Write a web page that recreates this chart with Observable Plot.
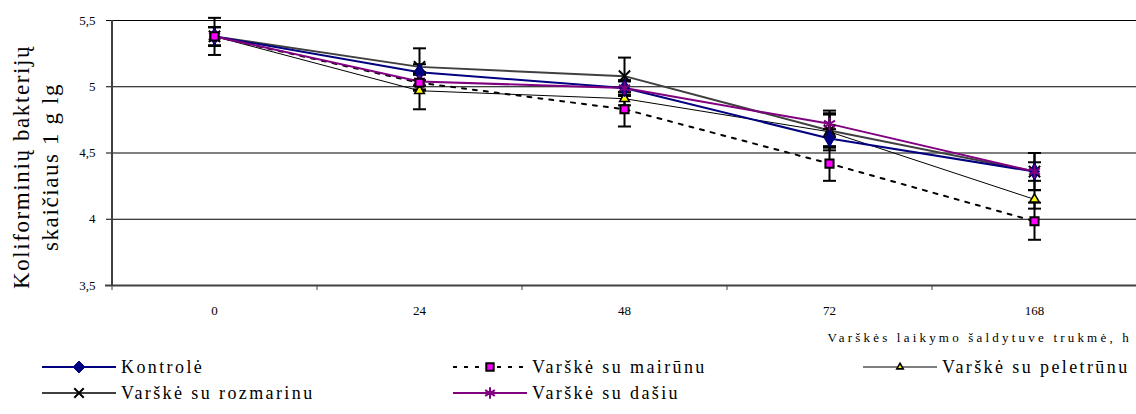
<!DOCTYPE html>
<html>
<head>
<meta charset="utf-8">
<script src="https://cdn.jsdelivr.net/npm/d3@7"></script>
<script src="https://cdn.jsdelivr.net/npm/@observablehq/plot@0.6"></script>
<style>
  html, body { margin: 0; padding: 0; background: #fff; }
  #wrap { position: relative; width: 1136px; height: 414px; font-family: 'Liberation Serif', 'DejaVu Serif', serif; color: #000; }
  #ytitle { position: absolute; left: 36px; top: 167px; transform: translate(-50%, -50%) rotate(-90deg); white-space: nowrap; text-align: center; font-size: 23px; line-height: 29px; letter-spacing: 1.6px; }
  #xtitle { position: absolute; right: 4px; top: 330px; font-size: 13px; letter-spacing: 3.2px; white-space: nowrap; font-family: 'Liberation Serif', serif; }
  .lg { position: absolute; display: flex; align-items: center; height: 22px; font-size: 18px; letter-spacing: 2.4px; white-space: nowrap; font-family: 'Liberation Serif', serif; }
  .lg svg { margin-right: 5px; }
  #chart svg text { font-family: 'Liberation Serif', serif; }
</style>
</head>
<body>
<div id="wrap">
  <div id="chart"></div>
  <div id="ytitle">Koliforminių bakterijų<br>skaičiaus 1 g lg</div>
  <div id="xtitle">Varškės laikymo šaldytuve trukmė, h</div>
  <div id="legend"></div>
</div>
<script>
// ---- data ----
const hours = ["0", "24", "48", "72", "168"];
const seriesNames = ["Kontrolė", "Varškė su mairūnu", "Varškė su peletrūnu", "Varškė su rozmarinu", "Varškė su dašiu"];
const kontrole  = [5.38, 5.11, 4.99, 4.61, 4.36];
const mairunu   = [5.38, 5.03, 4.83, 4.42, 3.985];
const peletrunu = [5.38, 4.97, 4.91, 4.66, 4.15];
const rozmarinu = [5.38, 5.15, 5.08, 4.67, 4.36];
const dasiu     = [5.38, 5.04, 4.99, 4.72, 4.36];
const errKontrole  = [0.07, 0.06, 0.05, 0.07, 0.07];
const errMairunu   = [0.07, 0.06, 0.13, 0.13, 0.14];
const errPeletrunu = [0.07, 0.14, 0.05, 0.14, 0.07];
const errRozmarinu = [0.14, 0.14, 0.14, 0.12, 0.14];
const errDasiu     = [0.07, 0.06, 0.06, 0.10, 0.14];
const yTicks = [3.5, 4, 4.5, 5, 5.5];

// ---- styles per series ----
const styles = {
  "Kontrolė":            {stroke: "#000080", width: 2, dash: null, symbol: "diamond", fill: "#000080", mstroke: "#000080", r: 5.2, sw: 1},
  "Varškė su mairūnu":   {stroke: "#000000", width: 2, dash: "4,7", symbol: "square", fill: "#ff00ff", mstroke: "#000000", r: 4.6, sw: 2},
  "Varškė su peletrūnu": {stroke: "#000000", width: 1, dash: null, symbol: "triangle", fill: "#ffff00", mstroke: "#000000", r: 3.6, sw: 1.6},
  "Varškė su rozmarinu": {stroke: "#404040", width: 2, dash: null, symbol: "times", fill: "none", mstroke: "#000000", r: 5.2, sw: 2},
  "Varškė su dašiu":     {stroke: "#800080", width: 2, dash: null, symbol: "asterisk", fill: "none", mstroke: "#800080", r: 6, sw: 2}
};

const valuesList = [kontrole, mairunu, peletrunu, rozmarinu, dasiu];
const errList = [errKontrole, errMairunu, errPeletrunu, errRozmarinu, errDasiu];
const rows = [];
seriesNames.forEach((s, i) => hours.forEach((h, j) => rows.push({series: s, hour: h, value: valuesList[i][j], err: errList[i][j]})));

const capSymbol = {draw(ctx, size) { const r = 6.5; ctx.moveTo(-r, 0); ctx.lineTo(r, 0); }};

const lineOrder = ["Varškė su peletrūnu", "Varškė su mairūnu", "Varškė su rozmarinu", "Kontrolė", "Varškė su dašiu"];
const markOrder = ["Varškė su peletrūnu", "Varškė su rozmarinu", "Kontrolė", "Varškė su dašiu", "Varškė su mairūnu"];

const marks = [
  Plot.ruleY(yTicks.slice(1), {stroke: "#000", strokeWidth: 1}),
  Plot.ruleY([3.5], {stroke: "#404040", strokeWidth: 2, insetLeft: -6}),
  Plot.ruleX(hours, {x: d => d, y1: 3.5, y2: 3.5, dx: -102.5, insetBottom: -5, stroke: "#404040", strokeWidth: 1}),
  Plot.ruleX([hours[0]], {x: d => d, y1: 3.5, y2: 5.5, dx: -102.5, stroke: "#404040", strokeWidth: 2}),
];
for (const s of lineOrder) {
  const st = styles[s];
  marks.push(Plot.line(rows.filter(d => d.series === s), {x: "hour", y: "value", stroke: st.stroke, strokeWidth: st.width, strokeDasharray: st.dash}));
}
marks.push(Plot.ruleX(rows, {x: "hour", y1: d => d.value - d.err, y2: d => d.value + d.err, stroke: "#000", strokeWidth: 2}));
marks.push(Plot.dot(rows, {x: "hour", y: d => d.value + d.err, symbol: capSymbol, stroke: "#000", strokeWidth: 2}));
marks.push(Plot.dot(rows, {x: "hour", y: d => d.value - d.err, symbol: capSymbol, stroke: "#000", strokeWidth: 2}));
for (const s of markOrder) {
  const st = styles[s];
  marks.push(Plot.dot(rows.filter(d => d.series === s), {x: "hour", y: "value", symbol: st.symbol, r: st.r, fill: st.fill, stroke: st.mstroke, strokeWidth: st.sw}));
}

const chart = Plot.plot({
  width: 1136,
  height: 352,
  marginLeft: 111,
  marginRight: 0,
  marginTop: 20,
  marginBottom: 67,
  style: {fontFamily: "'Liberation Serif', serif", fontSize: "13px", color: "#000", background: "#fff"},
  x: {type: "point", domain: hours, padding: 0.5, label: null, tickSize: 0, tickPadding: 20},
  y: {domain: [3.5, 5.5], ticks: yTicks, tickFormat: d => String(d).replace(".", ","), label: null, tickSize: 5, tickPadding: 11},
  marks
});
document.getElementById("chart").appendChild(chart);

// ---- legend ----
const legendPos = [
  {s: "Kontrolė", left: 42, top: 356},
  {s: "Varškė su mairūnu", left: 453, top: 356},
  {s: "Varškė su peletrūnu", left: 863, top: 356},
  {s: "Varškė su rozmarinu", left: 42, top: 382},
  {s: "Varškė su dašiu", left: 453, top: 382}
];
const legend = document.getElementById("legend");
for (const item of legendPos) {
  const st = styles[item.s];
  const div = document.createElement("div");
  div.className = "lg";
  div.style.left = item.left + "px";
  div.style.top = item.top + "px";
  const svg = d3.create("svg").attr("width", 74).attr("height", 20);
  svg.append("line").attr("x1", 0).attr("x2", 74).attr("y1", 10).attr("y2", 10)
    .attr("stroke", st.stroke).attr("stroke-width", st.width).attr("stroke-dasharray", st.dash);
  const sym = {diamond: d3.symbolDiamond2, square: d3.symbolSquare2, triangle: d3.symbolTriangle2, times: d3.symbolX, asterisk: d3.symbolAsterisk}[st.symbol];
  const size = {diamond: 90, square: 70, triangle: 30, times: 60, asterisk: 90}[st.symbol];
  svg.append("path").attr("transform", "translate(37,10)").attr("d", d3.symbol(sym, size)())
    .attr("fill", st.fill).attr("stroke", st.mstroke).attr("stroke-width", st.sw);
  div.appendChild(svg.node());
  const span = document.createElement("span");
  span.textContent = item.s;
  div.appendChild(span);
  legend.appendChild(div);
}
</script>
</body>
</html>
